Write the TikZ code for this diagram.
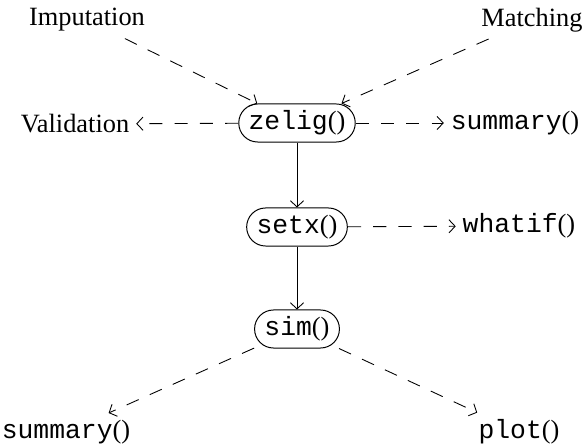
\documentclass[tikz,border=0pt]{standalone}
\usepackage{fontspec}
\setmainfont{Liberation Serif}
\setmonofont{Liberation Mono}
\usetikzlibrary{arrows.meta}
\begin{document}
\begin{tikzpicture}[x=0.455pt,y=-0.455pt,
  every node/.style={font=\fontsize{12}{14.4}\selectfont},
  lbl/.style={inner sep=3pt},
  fn/.style={draw, line width=0.45pt, rounded corners=8.6pt, minimum height=17.3pt, inner xsep=4.5pt, inner ysep=0pt},
  tip/.style={-{Straight Barb[length=2.8pt,width=6pt]}},
  dsh/.style={tip, dash pattern=on 6pt off 5.5pt, line width=0.4pt},
  sol/.style={tip, line width=0.4pt}]
\useasboundingbox (0,0) rectangle (585,446);
\node[lbl] (imp) at (87,20) {Imputation};
\node[lbl] (mat) at (532,20) {Matching};
\node[lbl] (val) at (75,124) {Validation};
\node[fn] (zelig) at (297,123) {\texttt{zelig}()};
\node[lbl] (sum1) at (515,123) {\texttt{summary}()};
\node[fn] (setx) at (297,227) {\texttt{setx}()};
\node[lbl] (what) at (519,226) {\texttt{whatif}()};
\node[fn] (sim) at (297,329) {\texttt{sim}()};
\node[lbl] (sum2) at (66,432) {\texttt{summary}()};
\node[lbl] (plot) at (519,432) {\texttt{plot}()};
\draw[dsh] (imp) -- (zelig);
\draw[dsh] (mat) -- (zelig);
\draw[dsh] (zelig) -- (val);
\draw[dsh] (zelig) -- (sum1);
\draw[sol] (zelig) -- (setx);
\draw[dsh] (setx) -- (what);
\draw[sol] (setx) -- (sim);
\draw[dsh] (sim) -- (sum2);
\draw[dsh] (sim) -- (plot);
\end{tikzpicture}
\end{document}
